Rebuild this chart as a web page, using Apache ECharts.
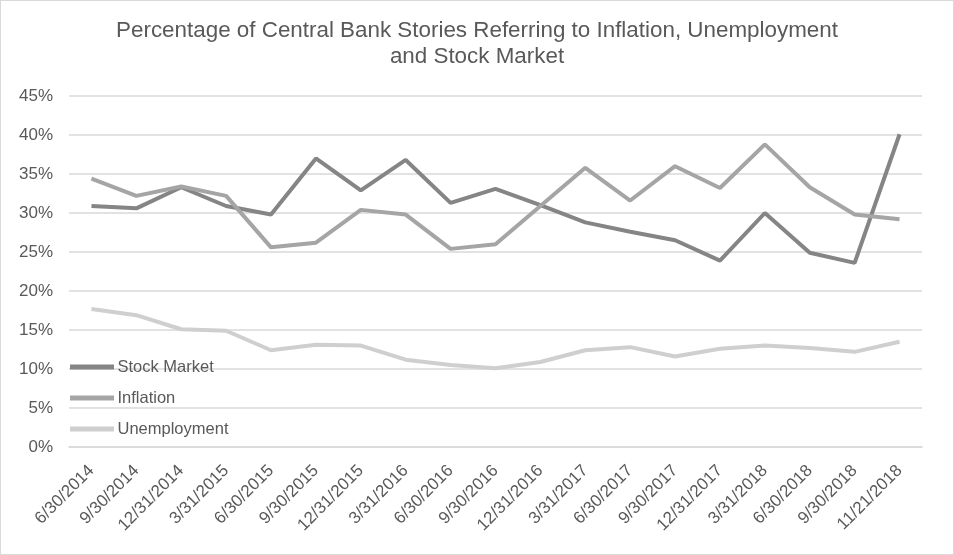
<!DOCTYPE html>
<html>
<head>
<meta charset="utf-8">
<script src="https://cdn.jsdelivr.net/npm/echarts@6/dist/echarts.min.js"></script>
<style>
  html, body { margin: 0; padding: 0; background: #fff; }
  #chart { width: 954px; height: 555px; box-sizing: border-box; border: 1px solid #d9d9d9; }
</style>
</head>
<body>
<div id="chart"></div>
<script>
const categories = ["6/30/2014","9/30/2014","12/31/2014","3/31/2015","6/30/2015","9/30/2015","12/31/2015","3/31/2016","6/30/2016","9/30/2016","12/31/2016","3/31/2017","6/30/2017","9/30/2017","12/31/2017","3/31/2018","6/30/2018","9/30/2018","11/21/2018"];
const stockMarket = [30.9, 30.6, 33.3, 30.9, 29.8, 37.0, 32.9, 36.8, 31.3, 33.1, 31.0, 28.8, 27.6, 26.5, 23.9, 30.0, 24.9, 23.6, 40.1];
const inflation = [34.4, 32.2, 33.4, 32.2, 25.6, 26.2, 30.4, 29.8, 25.4, 26.0, 30.9, 35.8, 31.6, 36.0, 33.2, 38.8, 33.3, 29.8, 29.2];
const unemployment = [17.7, 16.9, 15.1, 14.9, 12.4, 13.1, 13.0, 11.2, 10.5, 10.1, 10.9, 12.4, 12.8, 11.6, 12.6, 13.0, 12.7, 12.2, 13.5];
const yTicks = [0, 45, 5];

const font = "'Liberation Sans', Arial, sans-serif";
const txt = '#595959';
const chart = echarts.init(document.getElementById('chart'), null, { renderer: 'canvas' });
chart.setOption({
  animation: false,
  backgroundColor: '#fff',
  title: {
    text: 'Percentage of Central Bank Stories Referring to Inflation, Unemployment\nand Stock Market',
    left: 'center',
    top: 12,
    textStyle: { fontFamily: font, fontSize: 22.4, fontWeight: 'normal', color: txt, lineHeight: 26 }
  },
  legend: {
    orient: 'vertical',
    left: 64,
    top: 351,
    itemWidth: 44,
    itemHeight: 5,
    itemGap: 11,
    icon: 'rect',
    textStyle: { fontFamily: font, fontSize: 16.5, color: txt, lineHeight: 20, padding: [0, 0, 0, -1.5] },
    data: ['Stock Market', 'Inflation', 'Unemployment']
  },
  grid: { left: 68, right: 31, top: 95, bottom: 107, containLabel: false },
  xAxis: {
    type: 'category',
    data: categories,
    boundaryGap: true,
    axisLine: { lineStyle: { color: '#d9d9d9', width: 1.5 } },
    axisTick: { show: false },
    axisLabel: { rotate: 45, fontFamily: font, fontSize: 17, color: txt, margin: 21, interval: 0 }
  },
  yAxis: {
    type: 'value',
    min: yTicks[0],
    max: yTicks[1],
    interval: yTicks[2],
    axisLine: { show: false },
    axisTick: { show: false },
    splitLine: { lineStyle: { color: '#d9d9d9', width: 1.5 } },
    axisLabel: { formatter: '{value}%', fontFamily: font, fontSize: 17, color: txt, margin: 16 }
  },
  series: [
    { name: 'Stock Market', type: 'line', data: stockMarket, symbol: 'none', color: '#858585', lineStyle: { width: 4, color: '#858585' } },
    { name: 'Inflation', type: 'line', data: inflation, symbol: 'none', color: '#a5a5a5', lineStyle: { width: 4, color: '#a5a5a5' } },
    { name: 'Unemployment', type: 'line', data: unemployment, symbol: 'none', color: '#cfcfcf', lineStyle: { width: 4, color: '#cfcfcf' } }
  ]
});
</script>
</body>
</html>
